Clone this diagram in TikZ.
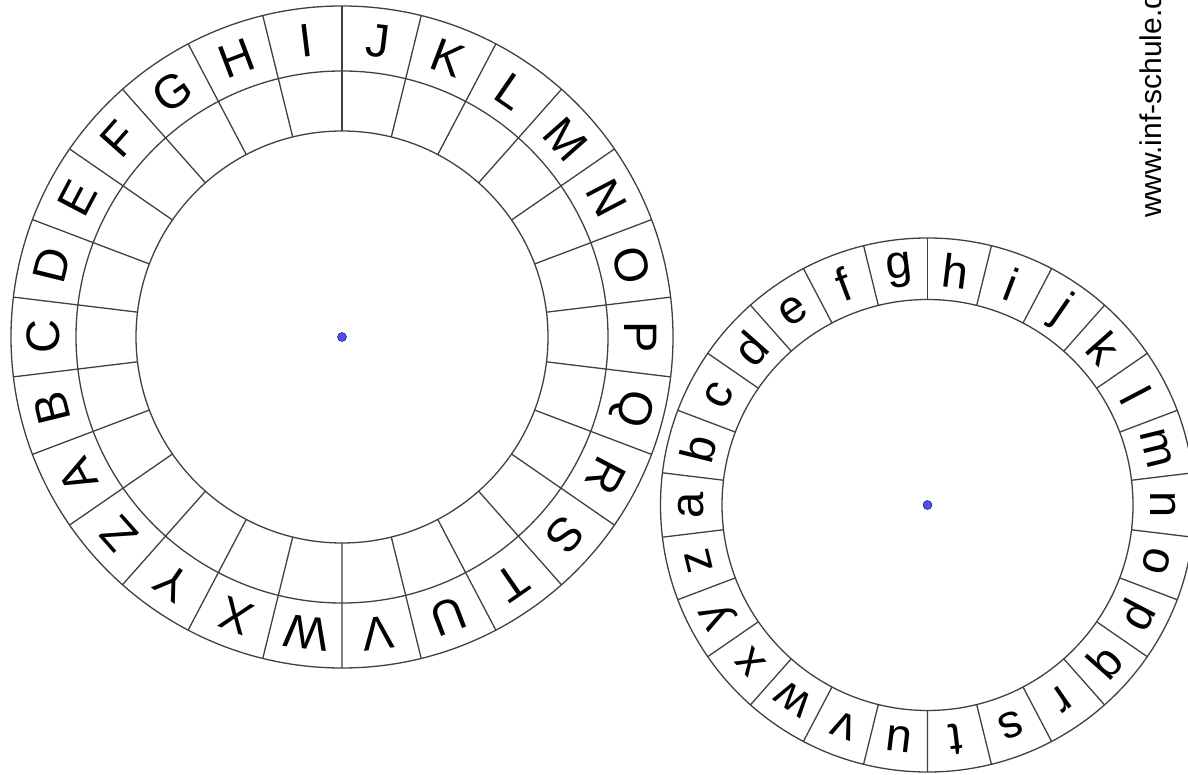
\documentclass[tikz,border=0pt]{standalone}
\usepackage{fontspec}
\setmainfont{Liberation Sans}
\begin{document}
\begin{tikzpicture}[x=1pt,y=1pt,
  ring/.style={draw=black!75,line width=1.3pt},
  bigletter/.style={inner sep=0pt,font=\fontsize{47}{47}\selectfont},
  smallletter/.style={inner sep=0pt,font=\fontsize{47}{47}\selectfont},
  hub/.style={circle,draw=blue!45!black,fill={rgb,255:red,80;green,80;blue,235},inner sep=0pt,minimum size=9pt}]
\useasboundingbox (0,0) rectangle (1188,774);
\clip (0,0) rectangle (1188,774);
% large wheel, capitals
\begin{scope}[shift={(342,437)}]
\draw[ring] (0,0) circle (331);
\draw[ring] (0,0) circle (266);
\draw[ring] (0,0) circle (206);
\foreach \k in {0,...,25}
  \draw[ring] (90+13.846*\k:206) -- (90+13.846*\k:331);
\foreach \l [count=\k from 0] in {A,...,Z} {
  \pgfmathsetmacro\a{207.69-13.846*\k}
  \node[bigletter,rotate=\a-90] (big\l) at (\a:298.5) {\l};
}
\node[hub] (bighub) at (0,0) {};
\end{scope}
% small wheel, lower case
\begin{scope}[shift={(927.5,269)}]
\draw[ring] (0,0) circle (267);
\draw[ring] (0,0) circle (205.5);
\foreach \k in {0,...,25}
  \draw[ring] (90+13.846*\k:205.5) -- (90+13.846*\k:267);
\foreach \l [count=\k from 0] in {a,...,z} {
  \pgfmathsetmacro\a{180-13.846*\k}
  \node[smallletter,rotate=\a-90] (small\l) at (\a:236) {\l};
}
\node[hub] (smallhub) at (0,0) {};
\end{scope}
\node[rotate=90,anchor=base west,inner sep=0pt,font=\fontsize{30}{30}\selectfont] (url) at (1161,556) {www.inf-schule.de};
\end{tikzpicture}
\end{document}
